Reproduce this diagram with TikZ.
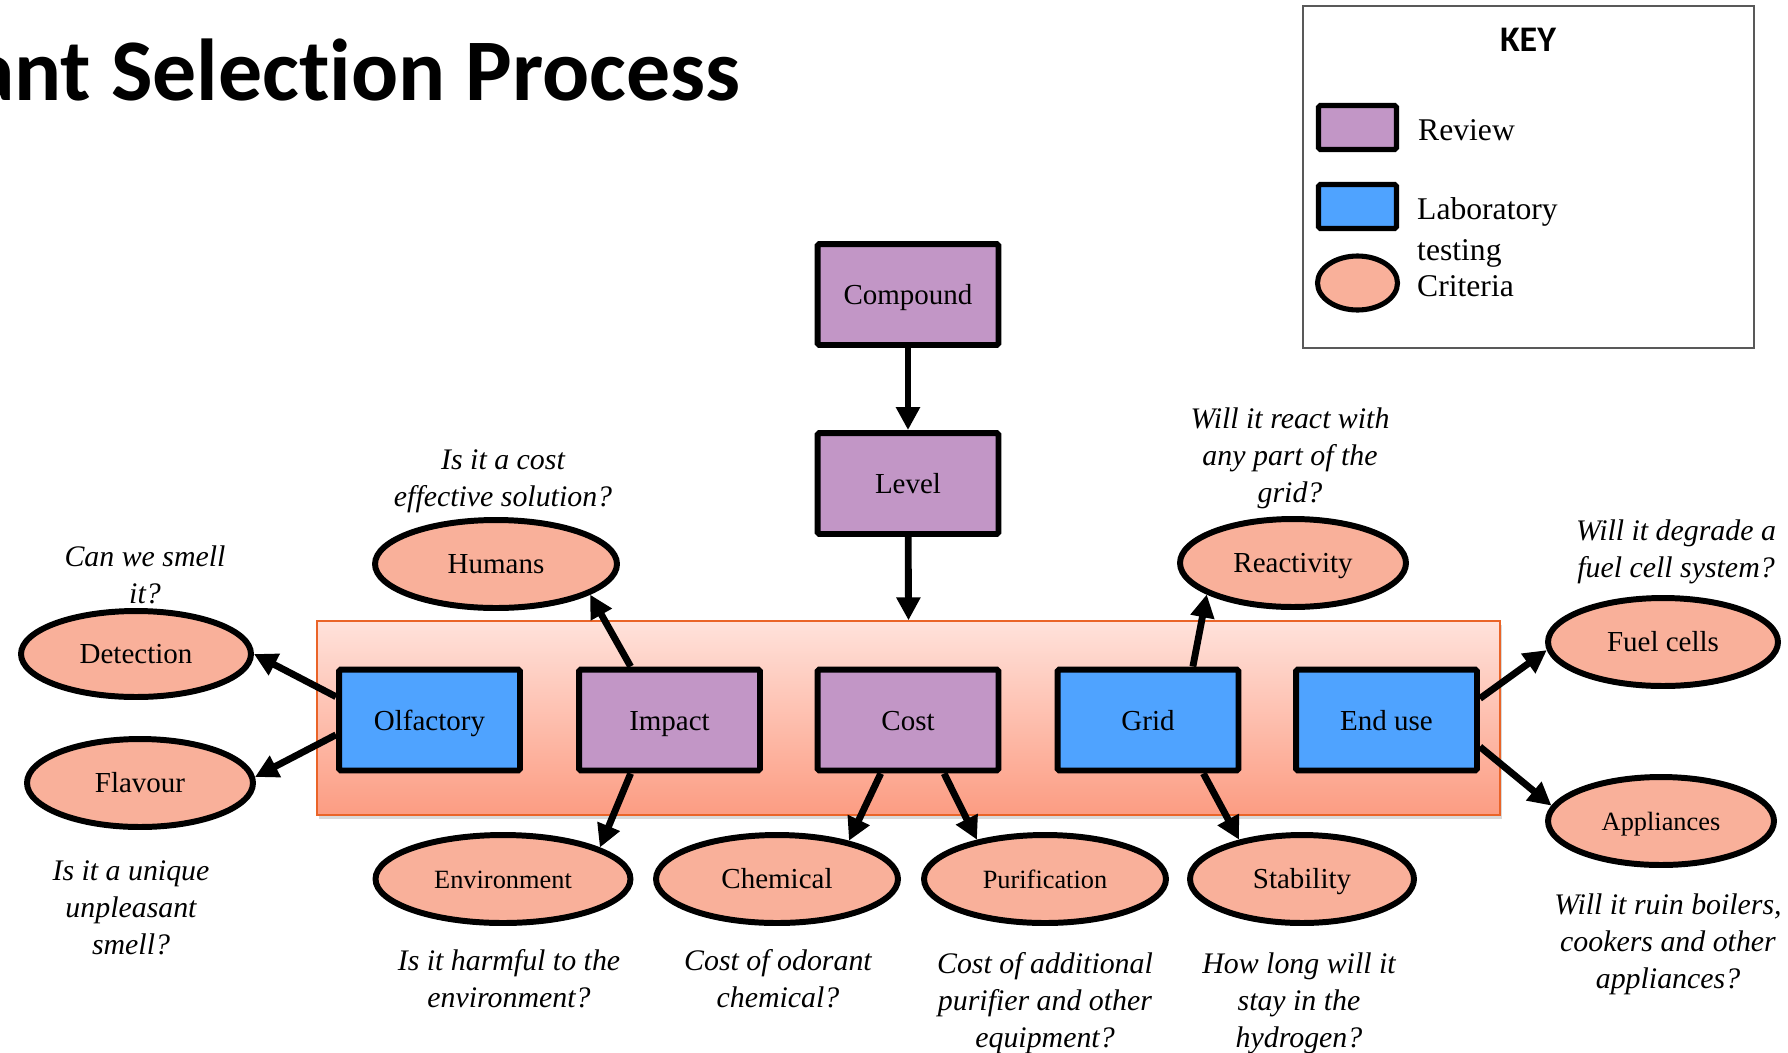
\documentclass[tikz,border=0pt]{standalone}
\usepackage{fontspec}
\setmainfont{Liberation Serif}
\newfontfamily\keyfont{Carlito}[Ligatures=NoCommon]
\usetikzlibrary{arrows.meta,shapes.geometric,shadows}
\definecolor{reviewfill}{RGB}{194,150,198}
\definecolor{labfill}{RGB}{79,163,255}
\definecolor{critfill}{RGB}{249,176,154}
\definecolor{bandtop}{RGB}{255,226,219}
\definecolor{bandbot}{RGB}{252,156,130}
\definecolor{bandline}{RGB}{234,100,40}
\newcommand{\bodysize}{\fontsize{16.5}{20}\selectfont}
\newcommand{\smallsize}{\fontsize{15}{18}\selectfont}

\begin{document}
\begin{tikzpicture}[x=0.02cm,y=-0.02cm,
    stepbox/.style={rectangle, draw, line width=3.4pt, rounded corners=1pt,
      minimum width=3.62cm, minimum height=2.02cm, inner sep=0pt, font=\bodysize,
      text height=11.5pt, text depth=0pt},
    review/.style={stepbox, fill=reviewfill},
    lab/.style={stepbox, fill=labfill},
    crit/.style={ellipse, draw, line width=3.4pt, fill=critfill, inner sep=0pt,
      minimum height=1.76cm, font=\bodysize, text height=11.2pt, text depth=0pt},
    question/.style={align=center, font=\fontsize{17}{21}\selectfont\itshape},
    arr/.style={line width=3.9pt, -{Triangle[length=0.46cm,width=0.46cm]}},
    keytext/.style={anchor=west, align=left, font=\fontsize{18}{23.3}\selectfont}]
  \useasboundingbox (0,0) rectangle (1788,1052);
  \clip (0,0) rectangle (1788,1052);
  \node[anchor=base east, font=\keyfont\bfseries\fontsize{50}{60}\selectfont] (title) at (747,100) {Odorant Selection Process};
  % key
  \node[draw=black!65, line width=0.8pt, minimum width=9.02cm, minimum height=6.84cm] (keybox) at (1528.5,177) {};
  \node[font=\keyfont\bfseries\fontsize{20.5}{24}\selectfont] (keytitle) at (1528,40) {KEY};
  \node[review, line width=2.9pt, minimum width=1.56cm, minimum height=0.88cm] (keyrev) at (1357.5,127.5) {};
  \node[lab, line width=2.9pt, minimum width=1.56cm, minimum height=0.88cm] (keylab) at (1357.5,206.5) {};
  \node[crit, line width=2.9pt, minimum width=1.6cm, minimum height=1.08cm] (keycrit) at (1357.5,283) {};
  \node[keytext] (keyrevtext) at (1412,130) {Review};
  \node[keytext] (keylabtext) at (1411,232) {Laboratory\\testing};
  \node[keytext] (keycrittext) at (1411,286) {Criteria};
  % band of tests
  \node[draw=bandline, line width=0.8pt, top color=bandtop, bottom color=bandbot,
    minimum width=23.66cm, minimum height=3.88cm, inner sep=0pt,
    drop shadow={shadow xshift=1pt, shadow yshift=-2pt, opacity=0.3}] (band) at (908.5,718) {};
  % review and laboratory steps
  \node[review] (comp) at (908,294.5) {Compound};
  \node[review] (lev) at (908,483.5) {Level};
  \node[lab] (olf) at (429.5,720) {Olfactory};
  \node[review] (imp) at (669.5,720) {Impact};
  \node[review] (cost) at (908,720) {Cost};
  \node[lab] (grid) at (1148,720) {Grid};
  \node[lab] (enduse) at (1386.5,720) {End use};
  % criteria
  \node[crit, minimum width=4.6cm, minimum height=1.72cm] (det) at (136,654) {Detection};
  \node[crit, minimum width=4.52cm] (flav) at (140,783) {Flavour};
  \node[crit, minimum width=4.84cm] (hum) at (496,564) {Humans};
  \node[crit, minimum width=5.1cm, font=\smallsize] (env) at (503,879) {Environment};
  \node[crit, minimum width=4.84cm] (chem) at (777,879) {Chemical};
  \node[crit, minimum width=4.84cm, font=\smallsize] (pur) at (1045,879) {Purification};
  \node[crit, minimum width=4.48cm] (stab) at (1302,879) {Stability};
  \node[crit, minimum width=4.52cm] (react) at (1293,563) {Reactivity};
  \node[crit, minimum width=4.6cm] (fuel) at (1663,642) {Fuel cells};
  \node[crit, minimum width=4.52cm, font=\smallsize] (app) at (1661,821) {Appliances};
  % questions
  \node[question] (qdet) at (145,575) {Can we smell\\it?};
  \node[question] (qflav) at (131,908) {Is it a unique\\unpleasant\\smell?};
  \node[question] (qhum) at (503,481) {Is it a cost\\effective solution?};
  \node[question] (qenv) at (509,979) {Is it harmful to the\\environment?};
  \node[question] (qchem) at (778,979) {Cost of odorant\\chemical?};
  \node[question] (qpur) at (1045,1003) {Cost of additional\\purifier and other\\equipment?};
  \node[question] (qstab) at (1299,1003) {How long will it\\stay in the\\hydrogen?};
  \node[question] (qreact) at (1290,458) {Will it react with\\any part of the\\grid?};
  \node[question] (qfuel) at (1676,552) {Will it degrade a\\fuel cell system?};
  \node[question] (qapp) at (1668,944) {Will it ruin boilers,\\cookers and other\\appliances?};
  % arrows
  \draw[arr] (comp) -- (lev);
  \draw[arr] (lev) -- (band.north);
  \draw[arr] (olf.166) -- (det.east);
  \draw[arr] (olf.-171) -- (flav.3);
  \draw[arr] (imp.126) -- (hum.-18);
  \draw[arr] (imp.234) -- (env.18);
  \draw[arr] (cost.-117) -- (chem.28);
  \draw[arr] (cost.-56) -- (pur.150);
  \draw[arr] (grid.50) -- (react.-160);
  \draw[arr] (grid.-44) -- (stab.148);
  \draw[arr] (enduse.13) -- (fuel.-176);
  \draw[arr] (enduse.-16) -- (app.172);
\end{tikzpicture}
\end{document}
